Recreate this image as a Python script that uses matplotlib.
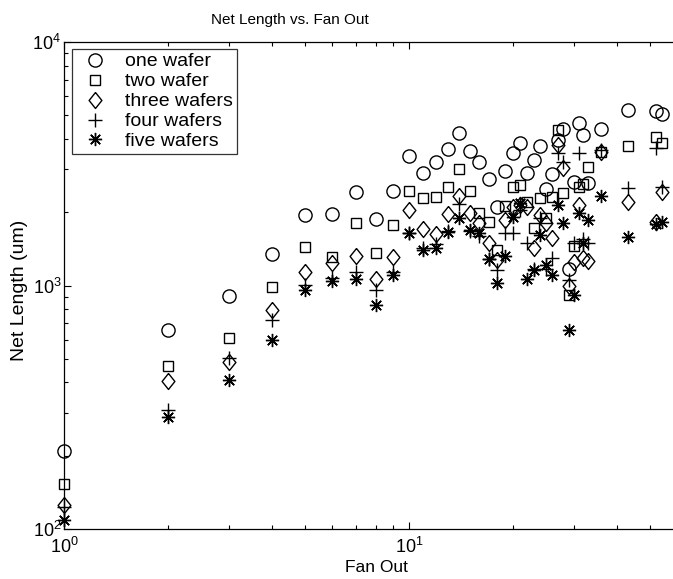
import matplotlib
matplotlib.use("Agg")
import matplotlib.pyplot as plt
from matplotlib.ticker import LogLocator, NullFormatter

plt.rcParams['font.family'] = ['Liberation Sans', 'DejaVu Sans']
plt.rcParams['mathtext.fontset'] = 'custom'
plt.rcParams['mathtext.rm'] = 'Liberation Sans'
plt.rcParams['mathtext.it'] = 'Liberation Sans'
plt.rcParams['mathtext.bf'] = 'Liberation Sans'

# ---- data ----
fan_out = [1, 2, 3, 4, 5, 6, 7, 8, 9, 10, 11, 12, 13, 14, 15, 16, 17, 18, 19, 20,
           21, 22, 23, 24, 25, 26, 27, 28, 29, 30, 31, 32, 33, 36, 43, 52, 54]
one_wafer = [209, 656, 908, 1347, 1948, 1960, 2414, 1870, 2450, 3402, 2906, 3225, 3637, 4217,
             3567, 3225, 2730, 2107, 2962, 3490, 3862, 2888, 3276, 3753, 2480, 2862, 3958,
             4380, 1166, 2670, 4637, 4150, 2627, 4393, 5260, 5223, 5047]
two_wafer = [153, 467, 611, 989, 1443, 1306, 1801, 1356, 1772, 2444, 2280, 2303, 2531, 3000,
             2450, 1980, 1828, 1400, 2121, 2531, 2587, 2200, 1717, 2280, 1888, 2316, 4350,
             2400, 914, 1453, 2545, 2600, 3058, 3550, 3753, 4085, 3837]
three_wafers = [125, 405, 486, 793, 1140, 1234, 1322, 1061, 1306, 2042, 1701, 1627, 1961, 2332,
                1980, 1801, 1491, 1273, 1858, 2100, 2141, 2107, 1421, 1950, 1801, 1563, 3776,
                3030, 1000, 1252, 2141, 1300, 1260, 3545, 2208, 1828, 2428]
four_wafers = [123, 308, 503, 722, 1005, 1075, 1140, 958, 1140, 1637, 1430, 1480, 1680, 2159,
               1680, 1600, 1290, 1158, 1640, 1650, 2050, 1500, 1170, 1900, 1170, 1300, 3500,
               3200, 1050, 1500, 3500, 1550, 1500, 3600, 2507, 3658, 2545]
five_wafers = [109, 288, 409, 597, 958, 1043, 1064, 832, 1104, 1648, 1399, 1421, 1663, 1888,
               1690, 1637, 1281, 1021, 1322, 1906, 2188, 1061, 1158, 1612, 1214, 1104, 2141,
               1801, 656, 914, 1980, 1491, 1858, 2332, 1586, 1790, 1828]

series = [
    ("one wafer", one_wafer),
    ("two wafer", two_wafer),
    ("three wafers", three_wafers),
    ("four wafers", four_wafers),
    ("five wafers", five_wafers),
]

W, H = 673, 579
fig = plt.figure(figsize=(W / 100, H / 100), dpi=100)
left, right, top, bottom = 64, 688, 42, 529
ax = fig.add_axes([left / W, 1 - bottom / H, (right - left) / W, (bottom - top) / H])

diamond = [(0, 1), (0.8, 0), (0, -1), (-0.8, 0), (0, 1)]
styles = [
    dict(marker='o', markersize=9.5),
    dict(marker='s', markersize=7.6),
    dict(marker=diamond, markersize=11.5),
    dict(marker='+', markersize=10.5),
    dict(marker=(8, 2, 0), markersize=9.5),
]

for (name, vals), st in zip(series, styles):
    ax.plot(fan_out, vals, linestyle='none', markerfacecolor='none',
            markeredgecolor='black', color='black', markeredgewidth=1.0,
            label=name, clip_on=False, **st)

ax.set_xscale('log')
ax.set_yscale('log')
ax.set_xlim(1, 10 ** ((right - left) / 345.0))
ax.set_ylim(100, 10000)

ax.xaxis.set_major_locator(LogLocator(base=10, numticks=10))
ax.yaxis.set_major_locator(LogLocator(base=10, numticks=10))
ax.xaxis.set_minor_locator(LogLocator(base=10, subs=range(2, 10), numticks=20))
ax.yaxis.set_minor_locator(LogLocator(base=10, subs=range(2, 10), numticks=20))
ax.xaxis.set_minor_formatter(NullFormatter())
ax.yaxis.set_minor_formatter(NullFormatter())

ax.tick_params(which='both', direction='in', top=True, right=True, colors='black',
               labelsize=13)
ax.tick_params(which='major', length=5, width=0.8)
ax.tick_params(which='minor', length=3, width=0.8)
ax.tick_params(axis='x', pad=6)
ax.tick_params(axis='y', pad=2)
for sp in ax.spines.values():
    sp.set_linewidth(0.9)
    sp.set_color('black')

fig.text(290 / W, 1 - 20 / H, "Net Length vs. Fan Out", ha='center', va='center', fontsize=11)
fig.text(376 / W, 1 - 568 / H, "Fan Out", ha='center', va='center', fontsize=12.5)
fig.text(20 / W, 1 - 290 / H, "Net Length (um)", ha='center', va='center',
         rotation=90, fontsize=14)

leg = ax.legend(loc='upper left', bbox_to_anchor=(72 / W, 1 - 49 / H),
                bbox_transform=fig.transFigure, borderaxespad=0, numpoints=1,
                frameon=True, fancybox=False, fontsize=14, handlelength=2.0,
                handletextpad=0.55, labelspacing=0.12, borderpad=0.2)
leg.get_frame().set_edgecolor('black')
leg.get_frame().set_linewidth(0.9)

fig.savefig("out.png", dpi=100)
